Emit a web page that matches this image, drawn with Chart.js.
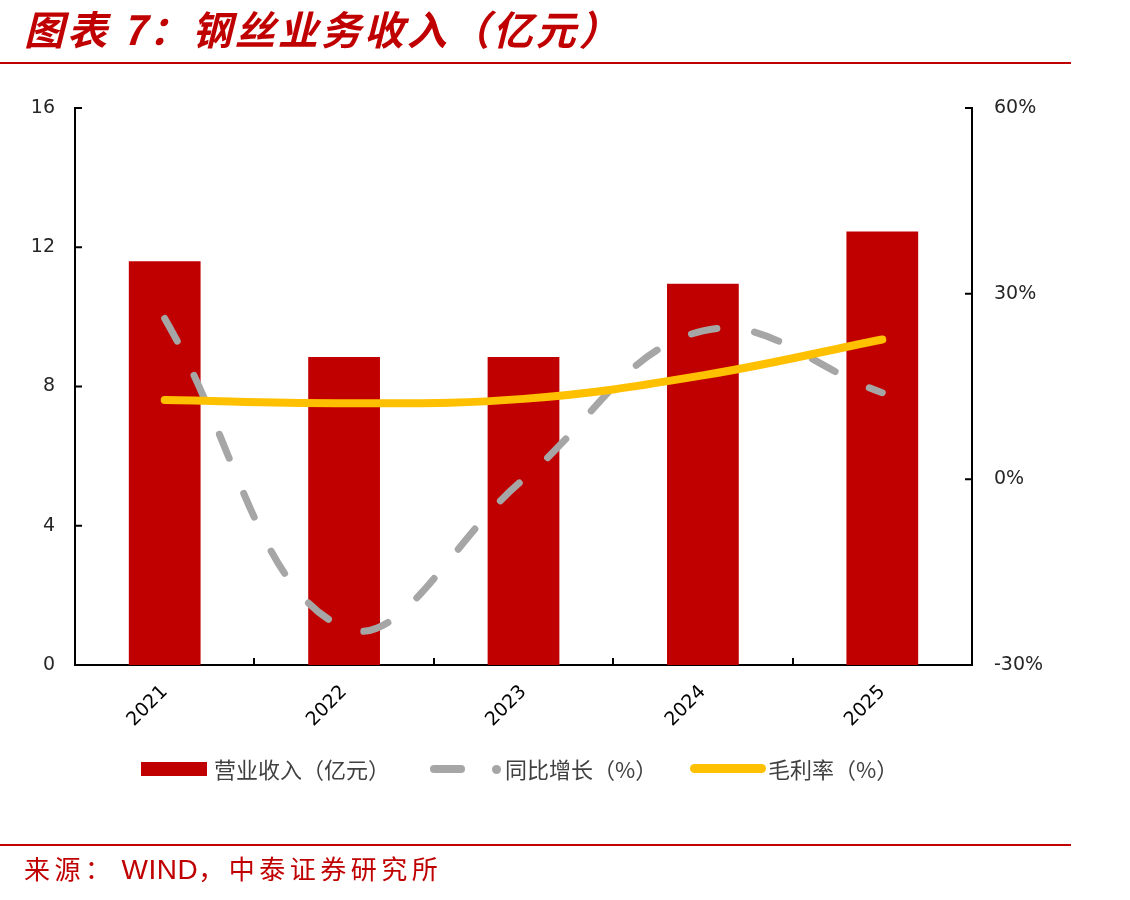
<!DOCTYPE html>
<html>
<head>
<meta charset="utf-8">
<script src="https://cdn.jsdelivr.net/npm/chart.js@4/dist/chart.umd.min.js"></script>
<style>
  html, body { margin: 0; padding: 0; background: #fff; }
  #page { position: relative; width: 1130px; height: 900px; overflow: hidden; }
  #chart { position: absolute; left: 0; top: 0; }
  .title {
    position: absolute; left: 24px; top: -1px;
    font-family: "Noto Sans CJK SC", sans-serif; font-weight: 700; font-style: italic;
    font-size: 40px; color: #c00000; letter-spacing: 3px;
  }
  .rule { position: absolute; left: 0; width: 1071px; height: 2px; background: #c00000; }
  .source {
    position: absolute; left: 24px; top: 849px;
    font-family: "Noto Sans CJK SC", sans-serif; font-size: 26px; color: #c00000; letter-spacing: 4.5px;
  }
  .source b { font-family: "Liberation Sans", sans-serif; font-weight: 400; font-size: 28px; letter-spacing: 0.5px; margin-left: 6px; }
  .legend {
    position: absolute; left: 0; top: 752px; width: 1130px; height: 32px;
    font-family: "Noto Sans CJK SC", sans-serif; font-size: 22px; color: #404040;
  }
  .legend span { position: absolute; top: 0; line-height: 32px; white-space: nowrap; }
  .legend i { position: absolute; display: block; }
</style>
</head>
<body>
<div id="page">
  <canvas id="chart" width="1130" height="900"></canvas>
  <div class="title">图表 7：钢丝业务收入（亿元）</div>
  <div class="rule" style="top:62px"></div>
  <div class="legend">
    <i style="left:141px;top:10px;width:66px;height:14px;background:#c00000"></i>
    <span style="left:214px">营业收入（亿元）</span>
    <i style="left:430px;top:13px;width:35px;height:8px;border-radius:4px;background:#a6a6a6"></i>
    <i style="left:492px;top:13px;width:9px;height:9px;border-radius:50%;background:#a6a6a6"></i>
    <span style="left:505px">同比增长（%）</span>
    <i style="left:690px;top:12px;width:76px;height:9px;border-radius:5px;background:#ffc000"></i>
    <span style="left:768px">毛利率（%）</span>
  </div>
  <div class="rule" style="top:844px"></div>
  <div class="source">来源：<b>WIND</b>，中泰证券研究所</div>
</div>
<script>
  const years = ["2021", "2022", "2023", "2024", "2025"];
  const revenue = [11.6, 8.85, 8.85, 10.95, 12.45];
  const yoyGrowth = [0.26, -0.24, 0.0, 0.24, 0.14];
  const grossMargin = [0.128, 0.123, 0.13, 0.168, 0.226];

  const leftTicks = [0, 4, 8, 12, 16];
  const rightTicks = [-0.3, 0, 0.3, 0.6];

  // inward tick marks, like the Excel original
  const innerTicks = {
    id: "innerTicks",
    afterDraw(chart) {
      const { ctx, chartArea, scales } = chart;
      const len = 7;
      ctx.save();
      ctx.strokeStyle = "#000";
      ctx.lineWidth = 2;
      ctx.beginPath();
      scales.y.ticks.forEach((t, i) => {
        const py = scales.y.getPixelForTick(i);
        ctx.moveTo(chartArea.left, py);
        ctx.lineTo(chartArea.left + len, py);
      });
      scales.y1.ticks.forEach((t, i) => {
        const py = scales.y1.getPixelForTick(i);
        ctx.moveTo(chartArea.right, py);
        ctx.lineTo(chartArea.right - len, py);
      });
      const half = (scales.x.getPixelForValue(1) - scales.x.getPixelForValue(0)) / 2;
      for (let i = 0; i < years.length - 1; i++) {
        const px = Math.round(scales.x.getPixelForValue(i) + half);
        ctx.moveTo(px, chartArea.bottom);
        ctx.lineTo(px, chartArea.bottom - len);
      }
      ctx.stroke();
      ctx.restore();
    },
  };

  const tickFont = { family: "DejaVu Sans", size: 19 };

  new Chart(document.getElementById("chart"), {
    data: {
      labels: years,
      datasets: [
        {
          type: "line",
          label: "毛利率（%）",
          data: grossMargin,
          yAxisID: "y1",
          borderColor: "#ffc000",
          borderWidth: 8,
          borderCapStyle: "round",
          tension: 0.4,
          pointRadius: 0,
          fill: false,
          order: 1,
        },
        {
          type: "line",
          label: "同比增长（%）",
          data: yoyGrowth,
          yAxisID: "y1",
          borderColor: "#a6a6a6",
          borderWidth: 7,
          borderDash: [26, 38],
          borderCapStyle: "round",
          tension: 0.4,
          pointRadius: 0,
          fill: false,
          order: 2,
        },
        {
          type: "bar",
          label: "营业收入（亿元）",
          data: revenue,
          yAxisID: "y",
          backgroundColor: "#c00000",
          barPercentage: 0.4,
          categoryPercentage: 1,
          order: 3,
        },
      ],
    },
    options: {
      responsive: false,
      animation: false,
      layout: { padding: { top: 108, left: 0, right: 0, bottom: 155 } },
      plugins: {
        legend: { display: false },
        tooltip: { enabled: false },
      },
      scales: {
        x: {
          offset: true,
          grid: { display: false, drawTicks: false },
          border: { color: "#000", width: 2 },
          ticks: {
            color: "#000",
            font: tickFont,
            minRotation: 45,
            maxRotation: 45,
            padding: 16,
          },
          afterFit: (scale) => { scale.height = 80; },
        },
        y: {
          position: "left",
          min: 0,
          max: 16,
          afterBuildTicks: (scale) => { scale.ticks = leftTicks.map((v) => ({ value: v })); },
          grid: { display: false, drawTicks: false },
          border: { color: "#000", width: 2 },
          ticks: { color: "#262626", font: tickFont, padding: 20 },
          afterFit: (scale) => { scale.width = 75; },
        },
        y1: {
          position: "right",
          min: -0.3,
          max: 0.6,
          afterBuildTicks: (scale) => { scale.ticks = rightTicks.map((v) => ({ value: v })); },
          grid: { display: false, drawTicks: false },
          border: { color: "#000", width: 2 },
          ticks: {
            color: "#262626",
            font: tickFont,
            padding: 22,
            callback: (v) => Math.round(v * 100) + "%",
          },
          afterFit: (scale) => { scale.width = 158; },
        },
      },
    },
    plugins: [innerTicks],
  });
</script>
</body>
</html>
